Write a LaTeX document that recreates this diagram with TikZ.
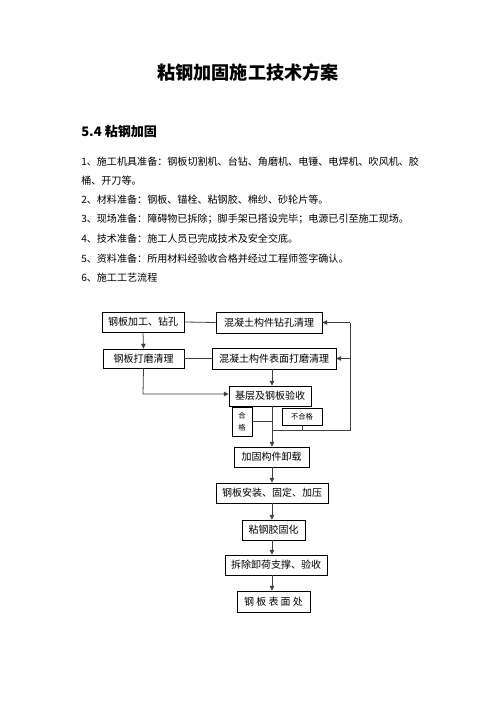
\documentclass[tikz,border=0pt]{standalone}
\usepackage{fontspec}
\setmainfont{Noto Sans CJK SC}
\usetikzlibrary{arrows.meta}
\begin{document}
\begin{tikzpicture}[x=0.75pt,y=-0.75pt,
  bx/.style n args={2}{draw=black,line width=0.6pt,inner sep=0pt,minimum width=#1*0.75pt,minimum height=#2*0.75pt,font=\fontsize{7.5pt}{9pt}\selectfont},
  ln/.style={draw=black!75,line width=0.6pt},
  ar/.style={ln,-{Triangle[length=3.6pt,width=3.4pt]}},
  body/.style={anchor=west,inner sep=0pt,font=\fontsize{7.55pt}{9pt}\selectfont}]
\useasboundingbox (0,0) rectangle (496,702);
\fill[white] (0,0) rectangle (496,702);
% title and text
\node[inner sep=0pt,font=\fontsize{13.6pt}{16pt}\selectfont\bfseries] (title) at (248,72.5) {粘钢加固施工技术方案};
\node[anchor=west,inner sep=0pt,font=\fontsize{9.8pt}{12pt}\selectfont\bfseries] (sec) at (81,131.5) {5.4 粘钢加固};
\node[body] (t1) at (81,162) {1、施工机具准备：钢板切割机、台钻、角磨机、电锤、电焊机、吹风机、胶};
\node[body] (t2) at (81,181) {桶、开刀等。};
\node[body] (t3) at (81,200) {2、材料准备：钢板、锚栓、粘钢胶、棉纱、砂轮片等。};
\node[body] (t4) at (81,219.5) {3、现场准备：障碍物已拆除；脚手架已搭设完毕；电源已引至施工现场。};
\node[body] (t5) at (81,239) {4、技术准备：施工人员已完成技术及安全交底。};
\node[body] (t6) at (81,258.5) {5、资料准备：所用材料经验收合格并经过工程师签字确认。};
\node[body] (t7) at (81,278) {6、施工工艺流程};
% flow chart boxes
\node[bx={82}{20}] (A) at (143,322) {钢板加工、钻孔};
\node[bx={106}{21}] (B) at (269,322.5) {混凝土构件钻孔清理};
\node[bx={81}{19}] (C) at (143.5,358.5) {钢板打磨清理};
\node[bx={124}{21}] (D) at (274,358.5) {混凝土构件表面打磨清理};
\node[bx={82}{20}] (E) at (270,396) {基层及钢板验收};
\node[bx={20}{29},font=\fontsize{5.5pt}{9pt}\selectfont,align=center] (F) at (242,421.5) {合\\格};
\node[bx={40}{17},font=\fontsize{5.5pt}{7pt}\selectfont] (G) at (302,416.5) {不合格};
\node[bx={75}{20}] (H) at (271.5,457) {加固构件卸载};
\node[bx={112}{20}] (I) at (272,493) {钢板安装、固定、加压};
\node[bx={63}{20}] (J) at (273.5,530) {粘钢胶固化};
\node[bx={102}{20}] (K) at (276,565) {拆除卸荷支撑、验收};
\node[bx={73}{21}] (L) at (273.5,601.5) {钢 板 表 面 处};
% helper coordinates
\coordinate (cx) at (272,0);
\coordinate (R) at (350,430);
\coordinate (cL) at (143,394);
% connectors
\draw[ln] (A.east) -- (B.west);
\draw[ar] (A.south) -- (C.north);
\draw[ln] (C.east) -- (D.west);
\draw[ar] (cx |- D.south) -- (cx |- E.north);
\draw[ar] (C.south) -- (cL) -- (cL -| E.west);
\draw[ln] (cx |- R) -- (R) -- (R |- B.east);
\draw[ar] (R |- B.east) -- (B.east);
\draw[ar] (R |- D.east) -- (D.east);
\draw[ln] (G.south) -- (G.south |- R);
\draw[ln] (F.east) -- (cx |- F.east);
\draw[ar] (cx |- E.south) -- (cx |- H.north);
\draw[ar] (cx |- H.south) -- (cx |- I.north);
\draw[ar] (cx |- I.south) -- (cx |- J.north);
\draw[ar] (cx |- J.south) -- (cx |- K.north);
\draw[ar] (cx |- K.south) -- (cx |- L.north);
\end{tikzpicture}
\end{document}
